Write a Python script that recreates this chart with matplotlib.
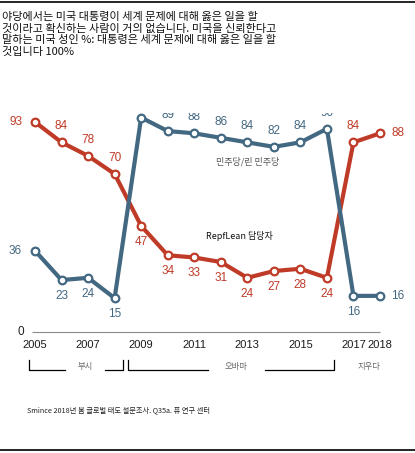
import matplotlib.pyplot as plt
from matplotlib.lines import Line2D

plt.rcParams['font.family'] = ['Liberation Sans', 'Noto Sans CJK KR', 'DejaVu Sans']

years = [2005, 2006, 2007, 2008, 2009, 2010, 2011, 2012, 2013, 2014, 2015, 2016, 2017, 2018]
rep = [93, 84, 78, 70, 47, 34, 33, 31, 24, 27, 28, 24, 84, 88]
dem = [36, 23, 24, 15, 95, 89, 88, 86, 84, 82, 84, 90, 16, 16]
rep_pos = ['l', 'a', 'a', 'a', 'b', 'b', 'b', 'b', 'b', 'b', 'b', 'b', 'a', 'r']
dem_pos = ['l', 'b', 'b', 'b', 'a', 'a', 'a', 'a', 'a', 'a', 'a', 'a', 'b', 'r']
tick_years = [2005, 2007, 2009, 2011, 2013, 2015, 2017, 2018]
# name, bracket start, bracket end, label centre, half gap
terms = [('부시', 2004.77, 2008.32, 2006.89, 0.75), ('오바마', 2008.51, 2016.25, 2012.59, 1.07)]

title_lines = ['야당에서는 미국 대통령이 세계 문제에 대해 옳은 일을 할',
               '것이라고 확신하는 사람이 거의 없습니다. 미국을 신뢰한다고',
               '말하는 미국 성인 %: 대통령은 세계 문제에 대해 옳은 일을 할',
               '것입니다 100%']

RED = '#bf3b27'
BLUE = '#436882'

fig = plt.figure(figsize=(4.15, 4.53), dpi=100)
ax = fig.add_axes([0, 0, 1, 340 / 453])
ax.set_xlim(2003.68, 2019.32)
ax.set_ylim(-53.6, 97.0)
ax.axis('off')

ax.hlines(0, years[0] - 0.1, years[-1], color='#8a8a8a', lw=0.8)
ax.text(2004.45, 0, '0', ha='center', va='center', fontsize=8.5, color='#222222')

for vals, pos, col in [(rep, rep_pos, RED), (dem, dem_pos, BLUE)]:
    ax.plot(years, vals, color=col, lw=3, marker='o', ms=5.5,
            mfc='white', mec=col, mew=1.6, solid_capstyle='round', zorder=3)
    for x, v, p in zip(years, vals, pos):
        off = {'l': (-14, 0), 'r': (13, 0), 'a': (0, 11.5), 'b': (0, -11.5)}[p]
        t = ax.annotate(str(v), (x, v), xytext=off, textcoords='offset points',
                        ha='center', va='center', fontsize=8.5, color=col)
        t.set_clip_box(ax.bbox)
        t.set_clip_on(True)

for y in tick_years:
    ax.text(y, -5.8, str(y), ha='center', va='center', fontsize=8, color='#1a1a1a')

ax.text(2013.0, 75.5, '민주당/린 민주당', ha='center', va='center',
        fontsize=6.5, color='#555555', family=['Noto Sans CJK KR'])
ax.text(2012.7, 42.5, 'RepfLean 담당자', ha='center', va='center',
        fontsize=6.5, color='#111111', family=['Noto Sans CJK KR'])

# term brackets
y_top, y_bot = -12.4, -16.8
for name, x0, x1, xc, half in terms:
    ax.plot([x0, x0, xc - half], [y_top, y_bot, y_bot], color='black', lw=0.9)
    ax.plot([xc + half, x1, x1], [y_bot, y_bot, y_top], color='black', lw=0.9)
    ax.text(xc, -15.5, name, ha='center', va='center', fontsize=6,
            color='#666666', family=['Noto Sans CJK KR'])
ax.text(2017.57, -15.5, '지우다', ha='center', va='center', fontsize=6,
        color='#666666', family=['Noto Sans CJK KR'])

ax.text(2004.7, -34.5, 'Smince 2018년 봄 글로벌 태도 설문조사. Q35a. 퓨 연구 센터',
        ha='left', va='center', fontsize=5.2, color='#222222',
        family=['Noto Sans CJK KR'])

for i, line in enumerate(title_lines):
    fig.text(2 / 415, 1 - (17 + 11.7 * i) / 453, line, ha='left', va='center',
             fontsize=8, color='#111111', family=['Noto Sans CJK KR'])

fig.add_artist(Line2D([0, 1], [1 - 1.5 / 453] * 2, color='black', lw=1.2))
fig.add_artist(Line2D([0, 1], [1 - 450 / 453] * 2, color='black', lw=1.2))

fig.savefig('out.png', dpi=100)
